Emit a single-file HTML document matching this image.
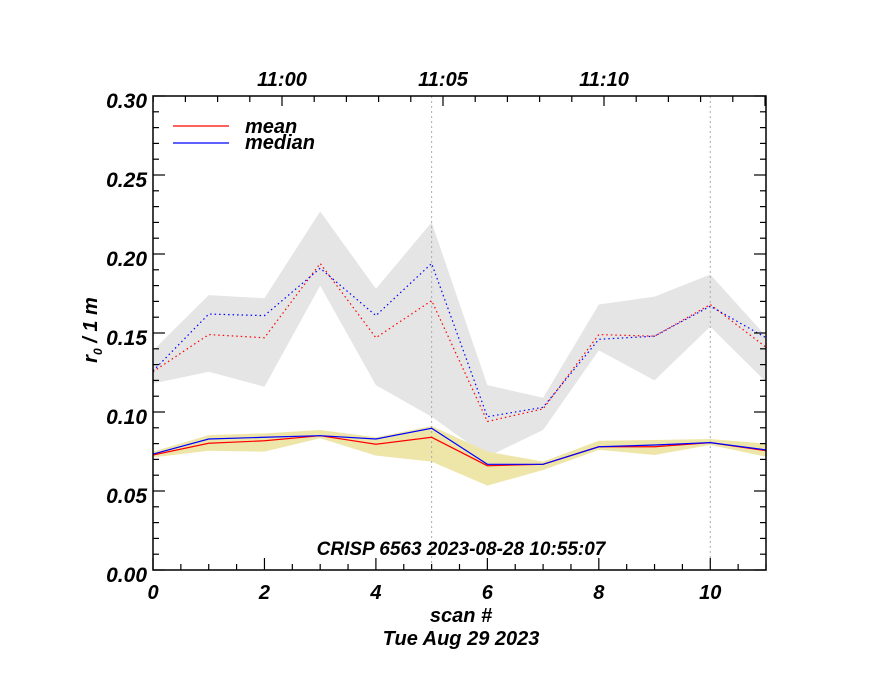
<!DOCTYPE html>
<html><head><meta charset="utf-8"><style>
html,body{margin:0;padding:0;background:#fff;}
svg text{font-family:"Liberation Sans",sans-serif;font-weight:bold;font-style:italic;fill:#000;}
</style></head><body>
<svg id="chart" width="880" height="680" xmlns="http://www.w3.org/2000/svg"></svg>
<script>
const scans=[0,1,2,3,4,5,6,7,8,9,10,11];
const medianDotted=[0.126,0.162,0.161,0.191,0.161,0.194,0.097,0.103,0.146,0.148,0.167,0.147];
const meanDotted=[0.1255,0.149,0.147,0.194,0.147,0.1705,0.094,0.102,0.149,0.148,0.168,0.141];
const grayUpper=[0.139,0.174,0.172,0.227,0.178,0.220,0.117,0.109,0.168,0.173,0.187,0.148];
const grayLower=[0.118,0.1255,0.116,0.180,0.117,0.097,0.0717,0.0886,0.139,0.120,0.154,0.119];
const medianSolid=[0.0734,0.0829,0.084,0.085,0.0829,0.0897,0.0669,0.0669,0.078,0.0791,0.0806,0.076];
const meanSolid=[0.0728,0.0802,0.0818,0.085,0.0796,0.084,0.066,0.0669,0.078,0.078,0.0806,0.0755];
const yellowUpper=[0.0749,0.0854,0.0865,0.0886,0.084,0.0911,0.0749,0.0686,0.0818,0.0823,0.0829,0.080];
const yellowLower=[0.0713,0.0755,0.0749,0.0834,0.0724,0.0686,0.0534,0.0633,0.076,0.0728,0.0791,0.0717];
const yTickLabels=["0.00","0.05","0.10","0.15","0.20","0.25","0.30"];
const xTickLabels=["0","2","4","6","8","10"];
const timeLabels=["11:00","11:05","11:10"];

const L=153,R=766,T=96,B=570;
const sx=v=>L+(v/11)*(R-L);
const sy=v=>B-(v/0.30)*(B-T);
const tx=m=>282+m*32.2; // minutes relative to 11:00
const svg=document.getElementById('chart');
const NS='http://www.w3.org/2000/svg';
function mk(tag,attrs,parent){const e=document.createElementNS(NS,tag);for(const k in attrs)e.setAttribute(k,attrs[k]);(parent||svg).appendChild(e);return e;}
function poly(vals){return scans.map((s,i)=>sx(s)+','+sy(vals[i])).join(' ');}
function band(up,lo){return poly(up)+' '+scans.slice().reverse().map(s=>sx(s)+','+sy(lo[s])).join(' ');}

let g=mk('polygon',{points:band(grayUpper,grayLower),fill:'#e5e5e5'});


let yb=mk('polygon',{points:band(yellowUpper,yellowLower),fill:'#eee6a8'});



[5,10].forEach(v=>{const l=mk('line',{x1:sx(v),x2:sx(v),y1:T,y2:B,stroke:'#aaa','stroke-width':1,'stroke-dasharray':'2,3'});

});

let p;
p=mk('polyline',{points:poly(meanDotted),fill:'none',stroke:'#f00','stroke-width':1.2,'stroke-dasharray':'1.5,3'});


p=mk('polyline',{points:poly(medianDotted),fill:'none',stroke:'#00f','stroke-width':1.2,'stroke-dasharray':'1.5,3'});


p=mk('polyline',{points:poly(meanSolid),fill:'none',stroke:'#f00','stroke-width':1.2});


p=mk('polyline',{points:poly(medianSolid),fill:'none',stroke:'#00f','stroke-width':1.2});



let fr=mk('rect',{x:L,y:T,width:R-L,height:B-T,fill:'none',stroke:'#000','stroke-width':1.5});



for(let i=0;i<=30;i++){const v=i/100,y=sy(v),len=(i%5===0)?12:6;
mk('line',{x1:L,x2:L+len,y1:y,y2:y,stroke:'#000','stroke-width':1.2});
mk('line',{x1:R,x2:R-len,y1:y,y2:y,stroke:'#000','stroke-width':1.2});}
yTickLabels.forEach((t,i)=>{const e=mk('text',{x:L-6,y:sy(i*0.05)+12,'text-anchor':'end','font-size':21});e.textContent=t;

});
for(let i=0;i<=22;i++){const v=i/2,x=sx(v),len=(i%4===0)?12:6;
mk('line',{x1:x,x2:x,y1:B,y2:B-len,stroke:'#000','stroke-width':1.2});}
xTickLabels.forEach(t=>{const e=mk('text',{x:sx(+t),y:599,'text-anchor':'middle','font-size':20});e.textContent=t;

});
for(let m=-4;m<=15;m++){const x=tx(m);if(x<L||x>R)continue;const len=(m%5===0)?10:6;
mk('line',{x1:x,x2:x,y1:T,y2:T+len,stroke:'#000','stroke-width':1.2});}
timeLabels.forEach((t,i)=>{const e=mk('text',{x:tx(i*5),y:86,'text-anchor':'middle','font-size':20});e.textContent=t;

});

let ll=mk('line',{x1:173,x2:229,y1:126,y2:126,stroke:'#f00','stroke-width':1.2});


ll=mk('line',{x1:173,x2:229,y1:143,y2:143,stroke:'#00f','stroke-width':1.2});


let t=mk('text',{x:245,y:133,'font-size':20,'font-weight':'normal'});t.textContent='mean';


t=mk('text',{x:245,y:149,'font-size':20,'font-weight':'normal'});t.textContent='median';



t=mk('text',{x:461,y:555,'text-anchor':'middle','font-size':19});t.textContent='CRISP 6563 2023-08-28 10:55:07';


t=mk('text',{x:461,y:622,'text-anchor':'middle','font-size':20});t.textContent='scan #';


t=mk('text',{x:461,y:645,'text-anchor':'middle','font-size':20});t.textContent='Tue Aug 29 2023';


t=mk('text',{x:0,y:0,'text-anchor':'middle','font-size':20,transform:'translate(97,330) rotate(-90)'});
t.innerHTML='r<tspan font-size="12" dy="5">0</tspan><tspan dy="-5"> / 1 m</tspan>';


</script>
</body></html>
